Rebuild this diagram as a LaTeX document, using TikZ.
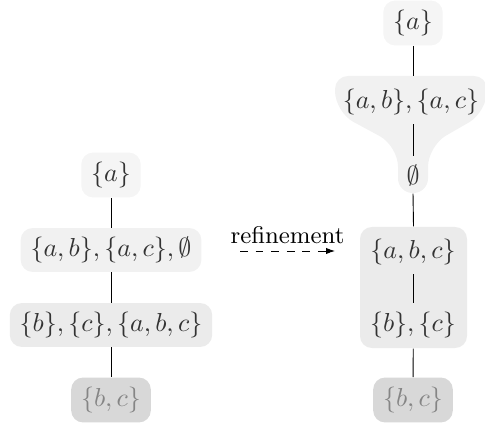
\documentclass[tikz,border=0pt]{standalone}
\usetikzlibrary{arrows.meta}
\definecolor{txt}{HTML}{333333}
\definecolor{gtxt}{HTML}{858585}
\definecolor{cA}{HTML}{F5F5F5}
\definecolor{cB}{HTML}{F1F1F1}
\definecolor{cC}{HTML}{EBEBEB}
\definecolor{cD}{HTML}{D8D8D8}
\begin{document}
\begin{tikzpicture}[x=0.385pt,y=-0.385pt,
  box/.style={rounded corners=4.6pt, minimum height=16.9pt, inner xsep=3.8pt, inner ysep=0pt, text=txt},
  plain/.style={minimum height=16.9pt, inner xsep=3.8pt, inner ysep=0pt, text=txt},
  link/.style={draw=black, line width=0.35pt}]
\useasboundingbox (0,0) rectangle (485,426);
\clip (0,0) rectangle (485,426);
% left column
\node[box, fill=cA, minimum height=17.3pt] (la) at (111,175) {$\{a\}$};
\node[box, fill=cB] (lb) at (111,250) {$\{a,b\},\{a,c\},\emptyset$};
\node[box, fill=cC] (lc) at (111,325) {$\{b\},\{c\},\{a,b,c\}$};
\node[box, fill=cD, text=gtxt, minimum height=17.3pt] (ld) at (111,400) {$\{b,c\}$};
\draw[link] (la) -- (lb);
\draw[link] (lb) -- (lc);
\draw[link] (lc) -- (ld);
% refinement arrow
\node[font=\fontsize{9.3}{11}\selectfont, inner sep=0pt] (lbl) at (287.5,235) {refinement};
\coordinate (ars) at (240,251);
\coordinate (are) at (335,251);
\draw[dashed, line width=0.35pt, -{Latex[length=3.4pt,width=2.4pt]}] (ars) -- (are);
% right column
\node[box, fill=cA, minimum height=17.3pt] (ra) at (413,23) {$\{a\}$};
\fill[cB, rounded corners=5pt] (335,76) -- (487,76) [rounded corners=8pt] -- (487,112) -- (428,146) [rounded corners=5.6pt] -- (428,193) -- (398,193) [rounded corners=8pt] -- (398,146) -- (335,112) [rounded corners=5pt] -- cycle;
\coordinate (rtop) at (413,76);
\node[plain] (rb) at (411,102) {$\{a,b\},\{a,c\}$};
\node[plain, minimum height=13.9pt] (rz) at (413,175) {$\emptyset$};
\node[fill=cC, rounded corners=4.6pt, minimum width=41.2pt, minimum height=46.6pt, inner sep=0pt] (rg) at (413.5,287.5) {};
\node[plain] (rc) at (413,252) {$\{a,b,c\}$};
\node[plain] (rd) at (413,325) {$\{b\},\{c\}$};
\node[box, fill=cD, text=gtxt, minimum height=17.3pt] (rf) at (413,400) {$\{b,c\}$};
\draw[link] (ra) -- (rtop);
\draw[link] (rb.south -| rz.north) -- (rz.north);
\draw[link] (rz.south) -- (rg.north);
\draw[link] (rc) -- (rd);
\draw[link] (rg) -- (rf);
\end{tikzpicture}
\end{document}
